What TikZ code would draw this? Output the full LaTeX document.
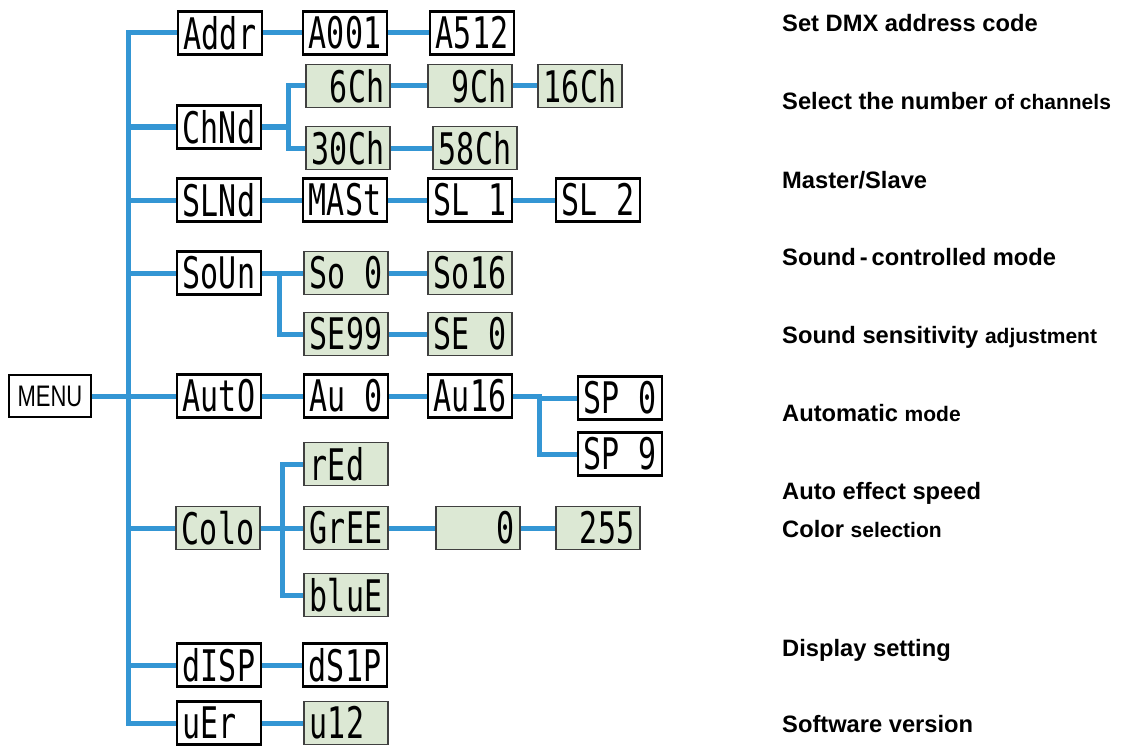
\documentclass[tikz,border=0pt]{standalone}
\usepackage{fontspec}
\setmainfont{Liberation Sans}
\newfontfamily\segfont{DejaVu Sans Mono}

\definecolor{wire}{RGB}{52,150,212}
\definecolor{lcdfill}{RGB}{220,232,212}
\newcommand{\unlit}{\phantom{8}}
\newcommand{\digits}[1]{\scalebox{1}[1.45]{\segfont #1}}
\newcommand{\minor}[1]{{\fontsize{21}{24}\selectfont #1}}

\tikzset{
  lcd/.style={draw=black, line width=2.5pt, fill=white, minimum width=84pt,
    minimum height=43pt, inner sep=0pt, font=\fontsize{30}{30}\selectfont},
  lcdgreen/.style={lcd, draw=black!75, line width=1.8pt, fill=lcdfill},
  link/.style={wire, line width=5pt},
  note/.style={anchor=base west, inner sep=0pt, font=\fontsize{23.7}{28}\selectfont\bfseries}
}

\begin{document}
\begin{tikzpicture}[x=1pt,y=-1pt]
    \useasboundingbox (0,0) rectangle (1126,749);

    % Root
    \node[draw, line width=1.8pt, minimum width=82pt, minimum height=42pt, inner sep=0pt,
      font=\fontsize{22}{22}\selectfont] (menu) at (50,396) {\scalebox{1}[1.35]{MENU}};
    \coordinate (trunk) at (128,0);

    % Address
    \node[lcd] (addr) at (220,33) {\digits{Addr}};
    \node[lcd] (a001) at (345,33) {\digits{A001}};
    \node[lcd] (a512) at (472,33) {\digits{A512}};

    % Channels
    \node[lcd] (chnd) at (219,127) {\digits{ChNd}};
    \node[lcdgreen] (ch6) at (348,86) {\digits{\unlit 6Ch}};
    \node[lcdgreen] (ch9) at (470,86) {\digits{\unlit 9Ch}};
    \node[lcdgreen] (ch16) at (580,86) {\digits{16Ch}};
    \node[lcdgreen] (ch30) at (348,148) {\digits{30Ch}};
    \node[lcdgreen] (ch58) at (475,148) {\digits{58Ch}};

    % Master / slave
    \node[lcd] (slnd) at (219,200) {\digits{SLNd}};
    \node[lcd] (mast) at (345,200) {\digits{MASt}};
    \node[lcd] (sl1) at (470,200) {\digits{SL\unlit 1}};
    \node[lcd] (sl2) at (598,200) {\digits{SL\unlit 2}};

    % Sound
    \node[lcd] (soun) at (219,273) {\digits{SoUn}};
    \node[lcdgreen] (so0) at (346,273) {\digits{So\unlit 0}};
    \node[lcdgreen] (so16) at (470,273) {\digits{So16}};
    \node[lcdgreen] (se99) at (346,334) {\digits{SE99}};
    \node[lcdgreen] (se0) at (470,334) {\digits{SE\unlit 0}};

    % Auto
    \node[lcd] (auto) at (219,396) {\digits{AutO}};
    \node[lcd] (au0) at (346,396) {\digits{Au\unlit 0}};
    \node[lcd] (au16) at (470,396) {\digits{Au16}};
    \node[lcd] (sp0) at (620,398) {\digits{SP\unlit 0}};
    \node[lcd] (sp9) at (620,454) {\digits{SP\unlit 9}};

    % Colour
    \node[lcdgreen] (colo) at (218,528) {\digits{Colo}};
    \node[lcdgreen] (red) at (346,464) {\digits{rEd\unlit}};
    \node[lcdgreen] (gree) at (346,528) {\digits{GrEE}};
    \node[lcdgreen] (lvl0) at (478,528) {\digits{\unlit\unlit\unlit 0}};
    \node[lcdgreen] (lvl255) at (598,528) {\digits{\unlit 255}};
    \node[lcdgreen] (blue) at (346,595) {\digits{bluE}};

    % Display, version
    \node[lcd] (disp) at (219,665) {\digits{dISP}};
    \node[lcd] (dsip) at (345,665) {\digits{dS1P}};
    \node[lcd] (uer) at (219,723) {\digits{uEr\unlit}};
    \node[lcdgreen] (u12) at (346,723) {\digits{u12\unlit}};

    % Trunk
    \draw[link] (menu.east) -- (trunk |- menu.east);
    \draw[link] (addr.west) -| (trunk |- uer.west) -- (uer.west);
    \foreach \n in {chnd,slnd,soun,auto,colo,disp}
        \draw[link] (trunk |- \n.west) -- (\n.west);

    % Straight links
    \foreach \a/\b in {addr/a001,a001/a512,ch6/ch9,ch9/ch16,ch30/ch58,
        slnd/mast,mast/sl1,sl1/sl2,soun/so0,so0/so16,se99/se0,
        auto/au0,au0/au16,colo/gree,gree/lvl0,lvl0/lvl255,disp/dsip,uer/u12}
        \draw[link] (\a.east) -- (\b.west);

    % Forks
    \draw[link] (chnd.east) -- ++(26,0) |- (ch6.west);
    \draw[link] ([xshift=26pt]chnd.east) |- (ch30.west);
    \draw[link] ([xshift=17pt]soun.east) |- (se99.west);
    \draw[link] (au16.east) -- ++(26,0) |- (sp0.west);
    \draw[link] ([xshift=26pt]au16.east) |- (sp9.west);
    \draw[link] ([xshift=22pt]colo.east) |- (red.west);
    \draw[link] ([xshift=22pt]colo.east) |- (blue.west);

    % Descriptions
    \node[note] (n1) at (782,32) {Set DMX address code};
    \node[note] (n2) at (782,110) {Select the number \minor{of channels}};
    \node[note] (n3) at (782,188) {Master/Slave};
    \node[note] (n4) at (782,265) {Sound\,-\,controlled mode};
    \node[note] (n5) at (782,343) {Sound sensitivity \minor{adjustment}};
    \node[note] (n6) at (782,421) {Automatic \minor{mode}};
    \node[note] (n7) at (782,499) {Auto effect speed};
    \node[note] (n8) at (782,537) {Color \minor{selection}};
    \node[note] (n9) at (782,656) {Display setting};
    \node[note] (n10) at (782,732) {Software version};
\end{tikzpicture}
\end{document}
